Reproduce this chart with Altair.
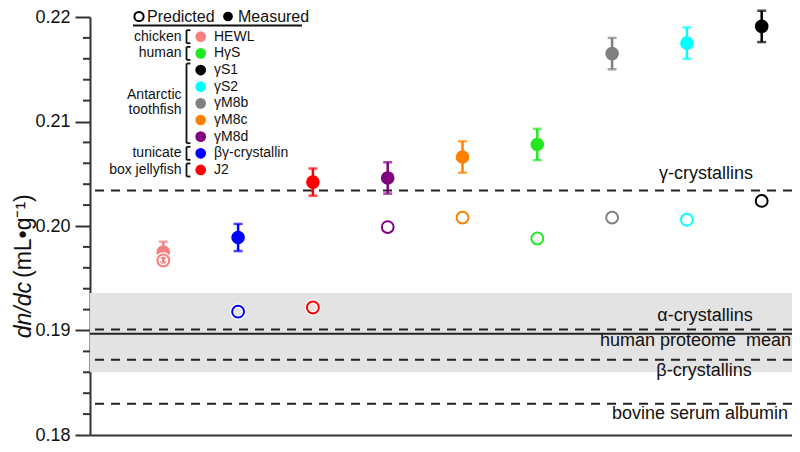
import altair as alt
import pandas as pd

# ---------------- data ----------------
proteins = ["HEWL", "βγ-crystallin", "J2", "γM8d", "γM8c", "HγS", "γM8b", "γS2", "γS1"]
colors = ["#F47F7F", "#0000FF", "#FF0000", "#800080", "#FF8000", "#22E822", "#808080", "#00FFFF", "#000000"]
measured = [0.1975, 0.1989, 0.2042, 0.2046, 0.2066, 0.2078, 0.2165, 0.2175, 0.2191]
errors = [0.0010, 0.0013, 0.0013, 0.0015, 0.0015, 0.0015, 0.0015, 0.0015, 0.0015]
predicted = [0.1967, 0.1918, 0.1922, 0.1999, 0.2008, 0.1988, 0.2008, 0.2006, 0.2024]

ref_labels = ["γ-crystallins", "α-crystallins", "β-crystallins", "bovine serum albumin"]
ref_values = [0.2034, 0.1901, 0.1872, 0.1830]
ref_label_y = [0.2050, 0.1914, 0.1861, 0.1820]
proteome_mean = 0.1897
proteome_label = "human proteome\u00a0 mean"
proteome_label_y = 0.1890
band_lo, band_hi = 0.1860, 0.1936

legend_items = ["HEWL", "HγS", "γS1", "γS2", "γM8b", "γM8c", "γM8d", "βγ-crystallin", "J2"]
legend_colors = ["#F47F7F", "#22E822", "#000000", "#00FFFF", "#808080", "#FF8000", "#800080", "#0000FF", "#FF0000"]
group_labels = ["chicken", "human", "Antarctic", "toothfish", "tunicate", "box jellyfish"]
group_rows = [0, 1, 3.5, 4.4, 7, 8]
bracket_rows = [(0, 0), (1, 1), (2, 6), (7, 7), (8, 8)]

y_major = [0.18, 0.19, 0.20, 0.21, 0.22]
y_minor = [round(0.18 + 0.002 * k, 3) for k in range(21) if k % 5 != 0]

# ---------------- layout helpers (page pixel -> data) ----------------
LEFT, TOP = 90, 17
W, H = 702, 418
X_MIN = -0.98
X_MAX = X_MIN + W / 74.8
Y_MIN, Y_MAX = 0.18, 0.22


def dx(px):
    return X_MIN + (px - LEFT) / W * (X_MAX - X_MIN)


def dy(py):
    return Y_MAX - (py - TOP) / H * (Y_MAX - Y_MIN)


FONT = "Liberation Sans"
AX = "#333333"
xs = alt.Scale(domain=[X_MIN, X_MAX], nice=False, zero=False)
ys = alt.Scale(domain=[Y_MIN, Y_MAX], nice=False, zero=False)
xax = alt.Axis(labels=False, ticks=False, title=None, grid=False,
               domainColor=AX, domainWidth=2)
yax = alt.Axis(values=y_major, format=".2f", title=None, grid=False,
               domainColor=AX, domainWidth=2, tickColor=AX, tickWidth=2,
               tickSize=15, labelPadding=5, labelFont=FONT, labelFontSize=18,
               labelColor="#111111")


def X(f):
    return alt.X(f, type="quantitative", scale=xs, axis=xax)


def Y(f):
    return alt.Y(f, type="quantitative", scale=ys, axis=yax)


# ---------------- tables ----------------
df = pd.DataFrame({
    "protein": proteins,
    "i": list(range(len(proteins))),
    "measured": measured,
    "lo": [m - e for m, e in zip(measured, errors)],
    "hi": [m + e for m, e in zip(measured, errors)],
    "predicted": predicted,
    "color": colors,
})

band_df = pd.DataFrame({"y1": [band_lo], "y2": [band_hi]})
ref_df = pd.DataFrame({"y": ref_values})
mean_df = pd.DataFrame({"y": [proteome_mean]})
lab_df = pd.DataFrame({
    "x": [dx(706), dx(705), dx(704), dx(700)],
    "y": ref_label_y,
    "label": ref_labels,
})
mean_lab_df = pd.DataFrame({"x": [dx(791)], "y": [proteome_label_y], "label": [proteome_label]})
minor_df = pd.DataFrame({"y": y_minor})

ROW0, DROW = 36.7, 16.66
leg_df = pd.DataFrame({
    "label": legend_items,
    "color": legend_colors,
    "xd": [dx(200.7)] * len(legend_items),
    "xt": [dx(214)] * len(legend_items),
    "y": [dy(ROW0 + DROW * k) for k in range(len(legend_items))],
})
grp_df = pd.DataFrame({
    "label": group_labels,
    "x": [dx(181.5)] * len(group_labels),
    "y": [dy(ROW0 + DROW * r) for r in group_rows],
})
seg = []
for a, b in bracket_rows:
    top = ROW0 + DROW * a - 6.5
    bot = ROW0 + DROW * b + 6.5
    seg.append((186.5, 186.5, top, bot))
    seg.append((186.5, 190.5, top, top))
    seg.append((186.5, 190.5, bot, bot))
seg.append((133, 302, 25.5, 25.5))  # header underline
seg_df = pd.DataFrame({
    "x1": [dx(s[0]) for s in seg], "x2": [dx(s[1]) for s in seg],
    "y1": [dy(s[2]) for s in seg], "y2": [dy(s[3]) for s in seg],
})
head_txt = pd.DataFrame({"label": ["Predicted", "Measured"],
                         "x": [dx(147), dx(238)], "y": [dy(16.5), dy(16.5)]})
head_ring = pd.DataFrame({"x": [dx(139)], "y": [dy(16.5)]})
head_dot = pd.DataFrame({"x": [dx(228)], "y": [dy(16.5)]})
title_df = pd.DataFrame({"x": [dx(24), dx(24)], "y": [dy(282), dy(278)],
                         "label": ["dn/dc", "(mL•g⁻¹)"]})

# ---------------- layers ----------------
band = alt.Chart(band_df).mark_rect(color="#E3E3E3").encode(
    x=alt.value(0), x2=alt.value(W), y=Y("y1"), y2="y2:Q")
refs = alt.Chart(ref_df).mark_rule(color="#222222", strokeWidth=2, strokeDash=[9, 7]).encode(y=Y("y"))
mean = alt.Chart(mean_df).mark_rule(color="#222222", strokeWidth=2).encode(y=Y("y"))
labels = alt.Chart(lab_df).mark_text(font=FONT, fontSize=18, color="#111111",
                                     align="center", baseline="middle").encode(
    x=X("x"), y=Y("y"), text="label:N")
mean_label = alt.Chart(mean_lab_df).mark_text(font=FONT, fontSize=18, color="#111111",
                                              align="right", baseline="middle").encode(
    x=X("x"), y=Y("y"), text="label:N")
minor = alt.Chart(minor_df).mark_rule(color=AX, strokeWidth=2).encode(
    x=alt.value(-7), x2=alt.value(0), y=Y("y"))

ebar = alt.Chart(df).mark_errorbar(ticks=True, size=9, thickness=2.5).encode(
    x=X("i"), y=Y("lo"), y2="hi:Q", color=alt.Color("color:N", scale=None))
meas = alt.Chart(df).mark_circle(size=185, opacity=1).encode(
    x=X("i"), y=Y("measured"), color=alt.Color("color:N", scale=None))
halo = alt.Chart(df).mark_point(filled=False, size=140, strokeWidth=4.5, color="white", opacity=1).encode(
    x=X("i"), y=Y("predicted"))
pred = alt.Chart(df).mark_point(filled=False, size=140, strokeWidth=2, opacity=1).encode(
    x=X("i"), y=Y("predicted"), color=alt.Color("color:N", scale=None))

leg_dots = alt.Chart(leg_df).mark_circle(size=115, opacity=1).encode(
    x=X("xd"), y=Y("y"), color=alt.Color("color:N", scale=None))
leg_text = alt.Chart(leg_df).mark_text(font=FONT, fontSize=14, color="#111111",
                                       align="left", baseline="middle").encode(
    x=X("xt"), y=Y("y"), text="label:N")
grp_text = alt.Chart(grp_df).mark_text(font=FONT, fontSize=14, color="#111111",
                                       align="right", baseline="middle").encode(
    x=X("x"), y=Y("y"), text="label:N")
segs = alt.Chart(seg_df).mark_rule(color="#111111", strokeWidth=1.8).encode(
    x=X("x1"), x2="x2:Q", y=Y("y1"), y2="y2:Q")
h_txt = alt.Chart(head_txt).mark_text(font=FONT, fontSize=16, color="#111111",
                                      align="left", baseline="middle").encode(
    x=X("x"), y=Y("y"), text="label:N")
h_ring = alt.Chart(head_ring).mark_point(filled=False, size=85, strokeWidth=2, color="black", opacity=1).encode(
    x=X("x"), y=Y("y"))
h_dot = alt.Chart(head_dot).mark_circle(size=95, color="black", opacity=1).encode(
    x=X("x"), y=Y("y"))

t1 = alt.Chart(title_df.iloc[[0]]).mark_text(font=FONT, fontSize=23, fontStyle="italic", color="#111111",
                                            angle=270, align="right", baseline="middle").encode(
    x=X("x"), y=Y("y"), text="label:N")
t2 = alt.Chart(title_df.iloc[[1]]).mark_text(font=FONT, fontSize=23, color="#111111",
                                            angle=270, align="left", baseline="middle").encode(
    x=X("x"), y=Y("y"), text="label:N")

chart = alt.layer(
    band, refs, mean, labels, mean_label, minor, ebar, meas, halo, pred,
    leg_dots, leg_text, grp_text, segs, h_txt, h_ring, h_dot, t1, t2,
).properties(
    width=W, height=H, autosize="none",
    padding={"left": LEFT - 8, "top": TOP - 8, "right": 0, "bottom": 436 - (TOP - 8) - H},
).configure_view(stroke=None)

chart.save("out.html", embed_options={"renderer": "svg", "actions": False})
